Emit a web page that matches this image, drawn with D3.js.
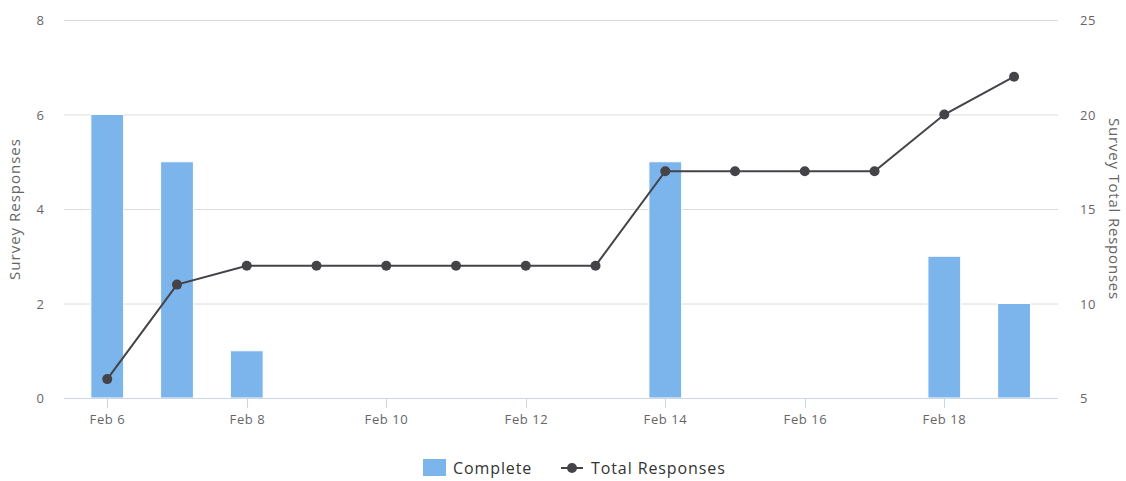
<!DOCTYPE html>
<html>
<head>
<meta charset="utf-8">
<script src="https://cdn.jsdelivr.net/npm/d3@7"></script>
<style>
  body { margin: 0; background: #fff; }
  text { font-family: "Open Sans", sans-serif; }
</style>
</head>
<body>
<div id="chart"></div>
<script>
// data
var days = ["2024-02-06","2024-02-07","2024-02-08","2024-02-09","2024-02-10","2024-02-11","2024-02-12",
            "2024-02-13","2024-02-14","2024-02-15","2024-02-16","2024-02-17","2024-02-18","2024-02-19"];
var complete = [6, 5, 1, 0, 0, 0, 0, 0, 5, 0, 0, 0, 3, 2];
var totalResponses = [6, 11, 12, 12, 12, 12, 12, 12, 17, 17, 17, 17, 20, 22];
var leftTicks = [0, 2, 4, 6, 8];
var rightTicks = [5, 10, 15, 20, 25];
var xTickDays = ["2024-02-06","2024-02-08","2024-02-10","2024-02-12","2024-02-14","2024-02-16","2024-02-18"];

var W = 1126, H = 481;
var margin = {top: 20, right: 68, bottom: 83, left: 64},
    width = W - margin.left - margin.right,
    height = H - margin.top - margin.bottom;

var parse = d3.timeParse("%Y-%m-%d");
var dates = days.map(parse);
var DAY = 864e5;

var svg = d3.select("#chart").append("svg")
            .attr("width", W).attr("height", H);
var g = svg.append("g")
           .attr("transform", "translate(" + margin.left + "," + margin.top + ")");

var xScale = d3.scaleTime()
               .domain([new Date(+dates[0] - 0.62 * DAY), new Date(+dates[dates.length - 1] + 0.63 * DAY)])
               .range([0, width]);
var yLeft = d3.scaleLinear().domain([0, 8]).range([height, 0]);
var yRight = d3.scaleLinear().domain([5, 25]).range([height, 0]);

// grid
g.append("g").selectAll("line").data(leftTicks).enter().append("line")
 .attr("x1", 0).attr("x2", width)
 .attr("y1", d => yLeft(d) + 0.5).attr("y2", d => yLeft(d) + 0.5)
 .attr("stroke", "#dcdcdc").attr("stroke-width", 1);

// bars
var pxDay = xScale(dates[1]) - xScale(dates[0]);
var barW = pxDay * 0.47;
g.append("g").selectAll("rect").data(complete).enter().append("rect")
 .attr("x", (d, i) => xScale(dates[i]) - barW / 2)
 .attr("y", d => yLeft(d))
 .attr("width", barW)
 .attr("height", d => height - yLeft(d))
 .attr("fill", "#7cb5ec")
 .attr("stroke", "#fff").attr("stroke-width", 1)
 .style("display", d => d > 0 ? null : "none");

// x axis
var xAxis = g.append("g").attr("transform", "translate(0," + height + ")");
xAxis.append("line").attr("x1", 0).attr("x2", width).attr("y1", 0.5).attr("y2", 0.5)
     .attr("stroke", "#ccd6eb");
var xt = xAxis.selectAll(".xt").data(xTickDays.map(parse)).enter().append("g")
              .attr("transform", d => "translate(" + (Math.round(xScale(d)) + 0.5) + ",0)");
xt.append("line").attr("y1", 0).attr("y2", 10).attr("stroke", "#ccd6eb");
xt.append("text").attr("y", 26).attr("text-anchor", "middle")
  .attr("fill", "#666").style("font-size", "13px").style("letter-spacing", "0.6px")
  .text(d => d3.timeFormat("%b %-d")(d));

// left axis labels
g.append("g").selectAll("text").data(leftTicks).enter().append("text")
 .attr("x", -20).attr("y", d => yLeft(d) + 5).attr("text-anchor", "end")
 .attr("fill", "#666").style("font-size", "13px").text(d => d);

// right axis labels
g.append("g").selectAll("text").data(rightTicks).enter().append("text")
 .attr("x", width + 22).attr("y", d => yRight(d) + 5).attr("text-anchor", "start")
 .attr("fill", "#666").style("font-size", "13px").style("letter-spacing", "0.5px").text(d => d);

// axis titles
svg.append("text")
   .attr("transform", "translate(20," + (margin.top + height / 2) + ") rotate(-90)")
   .attr("text-anchor", "middle").attr("fill", "#666").style("font-size", "15px").style("letter-spacing", "1px")
   .text("Survey Responses");
svg.append("text")
   .attr("transform", "translate(1109," + (margin.top + height / 2) + ") rotate(90)")
   .attr("text-anchor", "middle").attr("fill", "#666").style("font-size", "15px").style("letter-spacing", "0.8px")
   .text("Survey Total Responses");

// line
var line = d3.line().x((d, i) => xScale(dates[i])).y(d => yRight(d));
g.append("path").datum(totalResponses)
 .attr("fill", "none").attr("stroke", "#434348").attr("stroke-width", 2)
 .attr("d", line);
g.append("g").selectAll("circle").data(totalResponses).enter().append("circle")
 .attr("cx", (d, i) => xScale(dates[i])).attr("cy", d => yRight(d))
 .attr("r", 5).attr("fill", "#434348");

// legend
var legend = svg.append("g").attr("transform", "translate(0,468)");
legend.append("rect").attr("x", 423).attr("y", -9).attr("width", 23).attr("height", 17).attr("fill", "#7cb5ec");
legend.append("text").attr("x", 453).attr("y", 6).attr("fill", "#333")
      .style("font-size", "16px").style("letter-spacing", "0.9px").text("Complete");
legend.append("line").attr("x1", 561).attr("x2", 583).attr("y1", 0).attr("y2", 0)
      .attr("stroke", "#434348").attr("stroke-width", 2);
legend.append("circle").attr("cx", 572).attr("cy", 0).attr("r", 5).attr("fill", "#434348");
legend.append("text").attr("x", 591).attr("y", 6).attr("fill", "#333")
      .style("font-size", "16px").style("letter-spacing", "0.9px").text("Total Responses");
</script>
</body>
</html>
